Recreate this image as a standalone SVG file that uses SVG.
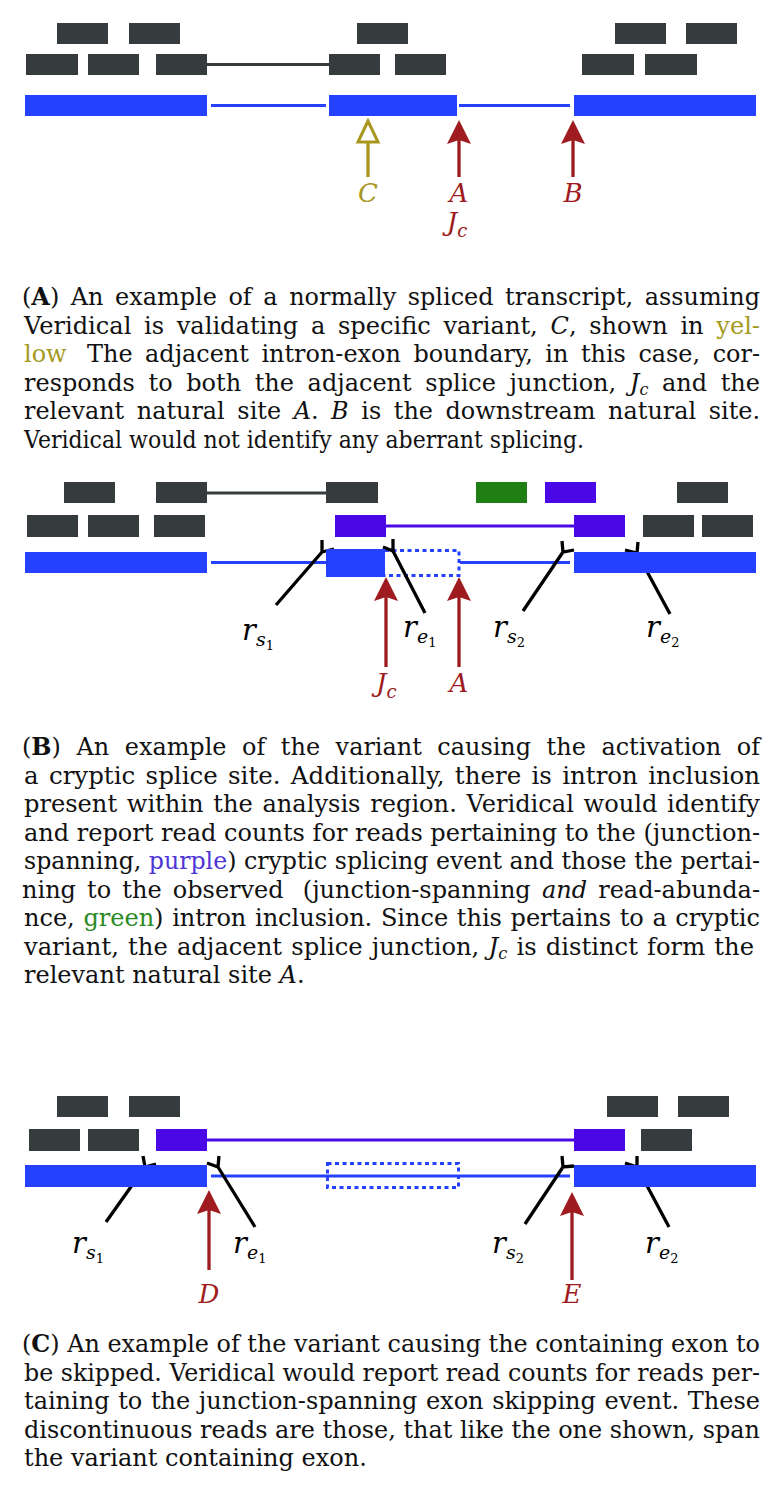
<svg xmlns="http://www.w3.org/2000/svg" width="780" height="1511" viewBox="0 0 780 1511">
<defs>
<style>
.rd{fill:#363c3e}
.pu{fill:#4a08e6}
.gr{fill:#1f7f14}
.ex{fill:#2541ff}
.intr{stroke:#2541ff;stroke-width:3;fill:none}
.dot{stroke:#2541ff;stroke-width:3;fill:none;stroke-dasharray:4 3.5}
.jg{stroke:#363c3e;stroke-width:3;fill:none}
.jp{stroke:#4a08e6;stroke-width:3;fill:none}
.ar{stroke:#9e1b20;stroke-width:3.3;fill:none;marker-end:url(#ah)}
.ay{stroke:#a8961e;stroke-width:3.3;fill:none;marker-end:url(#ay)}
.ptr{stroke:#000;stroke-width:3.3;fill:none;stroke-linejoin:miter}
.cap{font-family:"DejaVu Serif","Liberation Serif",serif;fill:#111}
.m{font-family:"DejaVu Serif","Liberation Serif",serif;font-style:italic}
.lr{fill:#9e1b20}
.ly{fill:#a8961e}
.lk{fill:#000}
.yt{fill:#a39a1e}
.pt{fill:#4d35d6}
.gt{fill:#2b8a24}
</style>
<marker id="ah" markerUnits="userSpaceOnUse" viewBox="-25 -15 50 30" markerWidth="50" markerHeight="30" refX="0" refY="0" orient="auto" overflow="visible">
<path d="M20,0 L-4,-12 L0,0 L-4,12 Z" fill="#9e1b20"/>
</marker>
<marker id="ay" markerUnits="userSpaceOnUse" viewBox="-25 -15 50 30" markerWidth="50" markerHeight="30" refX="0" refY="0" orient="auto" overflow="visible">
<path d="M18,0 L-3,-10 L-3,10 Z" fill="#fff" stroke="#a8961e" stroke-width="3" stroke-linejoin="miter"/>
</marker>
</defs>
<rect width="780" height="1511" fill="#fff"/>

<!-- ================= PANEL A ================= -->
<g id="panelA">
<g id="connectorsA">
<line class="jg" x1="207" y1="64.5" x2="329" y2="64.5"/>
<line class="intr" x1="211" y1="105.5" x2="326" y2="105.5"/>
<line class="intr" x1="459" y1="105.5" x2="570" y2="105.5"/>
<line class="ay" x1="368" y1="177" x2="368" y2="139"/>
<line class="ar" x1="459" y1="177" x2="459" y2="140"/>
<line class="ar" x1="573" y1="177" x2="573" y2="140"/>
</g>
<g id="A-reads">
<rect id="A-r1" class="rd" x="57" y="23" width="51" height="21"/>
<rect id="A-r2" class="rd" x="129" y="23" width="51" height="21"/>
<rect id="A-r3" class="rd" x="357" y="23" width="51" height="21"/>
<rect id="A-r4" class="rd" x="615" y="23" width="51" height="21"/>
<rect id="A-r5" class="rd" x="686" y="23" width="51" height="21"/>
<rect id="A-r6" class="rd" x="26" y="54" width="52" height="21"/>
<rect id="A-r7" class="rd" x="88" y="54" width="51" height="21"/>
<rect id="A-r8" class="rd" x="156" y="54" width="51" height="21"/>
<rect id="A-r9" class="rd" x="329" y="54" width="51" height="21"/>
<rect id="A-r10" class="rd" x="395" y="54" width="51" height="21"/>
<rect id="A-r11" class="rd" x="582" y="54" width="52" height="21"/>
<rect id="A-r12" class="rd" x="645" y="54" width="52" height="21"/>
</g>
<g id="A-exon1"><rect class="ex" x="25" y="95" width="182" height="21"/></g>
<g id="A-exon2"><rect class="ex" x="329" y="95" width="128" height="21"/></g>
<g id="A-exon3"><rect class="ex" x="574" y="95" width="182" height="21"/></g>
<g id="A-labels" class="m" font-size="26" text-anchor="middle">
<text class="ly" x="368" y="202">C</text>
<text class="lr" x="459" y="202">A</text>
<text class="lr" x="573" y="202">B</text>
<text class="lr" x="457" y="231">J<tspan font-size="18" dy="6">c</tspan></text>
</g>
</g>

<!-- Caption A -->
<g id="captionA" class="cap" font-size="24">
<text x="22" y="305" textLength="738" lengthAdjust="spacingAndGlyphs" word-spacing="4">(<tspan font-weight="bold">A</tspan>) An example of a normally spliced transcript, assuming</text>
<text x="24" y="333.5" textLength="736" lengthAdjust="spacingAndGlyphs" word-spacing="5">Veridical is validating a specific variant, <tspan font-style="italic">C</tspan>, shown in <tspan class="yt">yel-</tspan></text>
<text x="24" y="362" textLength="736" lengthAdjust="spacingAndGlyphs" word-spacing="5"><tspan class="yt">low</tspan> <tspan dx="8">The adjacent intron-exon boundary, in this case, cor-</tspan></text>
<text x="24" y="390.5" textLength="736" lengthAdjust="spacingAndGlyphs" word-spacing="6">responds to both the adjacent splice junction, <tspan font-style="italic">J</tspan><tspan font-style="italic" font-size="16" dy="4">c</tspan><tspan dy="-4"> and the</tspan></text>
<text x="24" y="419" textLength="736" lengthAdjust="spacingAndGlyphs" word-spacing="5">relevant natural site <tspan font-style="italic">A</tspan>. <tspan font-style="italic">B</tspan> is the downstream natural site.</text>
<text x="24" y="447.5" textLength="560" lengthAdjust="spacingAndGlyphs">Veridical would not identify any aberrant splicing.</text>
</g>

<!-- ================= PANEL B ================= -->
<g id="panelB">
<g id="connectorsB">
<line class="jg" x1="207" y1="493" x2="326" y2="493"/>
<line class="jp" x1="386" y1="526" x2="574" y2="526"/>
<line class="intr" x1="211" y1="562.5" x2="326" y2="562.5"/>
<line class="intr" x1="460" y1="562.5" x2="570" y2="562.5"/>
<path class="dot" d="M385,550.5 H459 V575.5 H385"/>
<line class="ar" x1="386" y1="667" x2="386" y2="597"/>
<line class="ar" x1="459" y1="667" x2="459" y2="597"/>
<path class="ptr" d="M276,605 L322,552 M322,540 L322,552 L334,549"/>
<path class="ptr" d="M425,613 L393,551 M393,539 L393,551 L383,547"/>
<path class="ptr" d="M523,611 L563,552 M562,541 L563,552 L574,550"/>
<path class="ptr" d="M670,614 L637,553 M638,542 L637,553 L625,550"/>
</g>
<g id="B-reads">
<rect id="B-r1" class="rd" x="64" y="482" width="51" height="21"/>
<rect id="B-r2" class="rd" x="156" y="482" width="51" height="21"/>
<rect id="B-r3" class="rd" x="326" y="482" width="52" height="21"/>
<rect id="B-r4" class="gr" x="476" y="482" width="51" height="21"/>
<rect id="B-r5" class="pu" x="545" y="482" width="51" height="21"/>
<rect id="B-r6" class="rd" x="677" y="482" width="51" height="21"/>
<rect id="B-r7" class="rd" x="27" y="515" width="51" height="22"/>
<rect id="B-r8" class="rd" x="88" y="515" width="51" height="22"/>
<rect id="B-r9" class="rd" x="154" y="515" width="51" height="22"/>
<rect id="B-r10" class="pu" x="335" y="515" width="51" height="22"/>
<rect id="B-r11" class="pu" x="574" y="515" width="51" height="22"/>
<rect id="B-r12" class="rd" x="643" y="515" width="51" height="22"/>
<rect id="B-r13" class="rd" x="702" y="515" width="51" height="22"/>
</g>
<g id="B-exon1"><rect class="ex" x="25" y="552" width="182" height="21"/></g>
<g id="B-exon2"><rect class="ex" x="326" y="549" width="59" height="28"/></g>
<g id="B-exon3"><rect class="ex" x="574" y="552" width="182" height="21"/></g>
<g id="B-labels" class="m">
<text class="lk" x="242" y="640" font-size="29">r<tspan font-size="19" dy="6">s</tspan><tspan font-size="13" font-style="normal" dy="4">1</tspan></text>
<text class="lk" x="403" y="637" font-size="29">r<tspan font-size="19" dy="6">e</tspan><tspan font-size="13" font-style="normal" dy="4">1</tspan></text>
<text class="lk" x="493" y="637" font-size="29">r<tspan font-size="19" dy="6">s</tspan><tspan font-size="13" font-style="normal" dy="4">2</tspan></text>
<text class="lk" x="646" y="637" font-size="29">r<tspan font-size="19" dy="6">e</tspan><tspan font-size="13" font-style="normal" dy="4">2</tspan></text>
<text class="lr" x="376" y="692" font-size="26">J<tspan font-size="18" dy="6">c</tspan></text>
<text class="lr" x="459" y="692" font-size="26" text-anchor="middle">A</text>
</g>
</g>

<!-- Caption B -->
<g id="captionB" class="cap" font-size="24">
<text x="22" y="755" textLength="738" lengthAdjust="spacingAndGlyphs" word-spacing="8">(<tspan font-weight="bold">B</tspan>) An example of the variant causing the activation of</text>
<text x="24" y="783.5" textLength="736" lengthAdjust="spacingAndGlyphs" word-spacing="2.5">a cryptic splice site. Additionally, there is intron inclusion</text>
<text x="24" y="812" textLength="736" lengthAdjust="spacingAndGlyphs" word-spacing="2">present within the analysis region. Veridical would identify</text>
<text x="24" y="840.5" textLength="736" lengthAdjust="spacingAndGlyphs">and report read counts for reads pertaining to the (junction-</text>
<text x="24" y="869" textLength="736" lengthAdjust="spacingAndGlyphs">spanning, <tspan class="pt">purple</tspan>) cryptic splicing event and those the pertai-</text>
<text x="22" y="897.5" textLength="738" lengthAdjust="spacingAndGlyphs" word-spacing="3.5">ning to the observed <tspan dx="8">(junction-spanning</tspan> <tspan font-style="italic">and</tspan> read-abunda-</text>
<text x="24" y="926" textLength="736" lengthAdjust="spacingAndGlyphs" word-spacing="1">nce, <tspan class="gt">green</tspan>) intron inclusion. Since this pertains to a cryptic</text>
<text x="24" y="954.5" textLength="730" lengthAdjust="spacingAndGlyphs" word-spacing="1.5">variant, the adjacent splice junction, <tspan font-style="italic">J</tspan><tspan font-style="italic" font-size="16" dy="4">c</tspan><tspan dy="-4"> is distinct form the</tspan></text>
<text x="24" y="983">relevant natural site <tspan font-style="italic">A</tspan>.</text>
</g>

<!-- ================= PANEL C ================= -->
<g id="panelC">
<g id="connectorsC">
<line class="jp" x1="207" y1="1140" x2="574" y2="1140"/>
<line class="intr" x1="211" y1="1176" x2="570" y2="1176"/>
<rect class="dot" x="327.5" y="1163.5" width="131" height="24"/>
<line class="ar" x1="209" y1="1270" x2="209" y2="1210"/>
<line class="ar" x1="572" y1="1280" x2="572" y2="1212"/>
<path class="ptr" d="M106,1222 L145,1167 M143,1156 L145,1167 L156,1164"/>
<path class="ptr" d="M255,1227 L218,1167 M219,1156 L218,1167 L207,1163"/>
<path class="ptr" d="M525,1224 L563,1167 M562,1156 L563,1167 L574,1166"/>
<path class="ptr" d="M669,1227 L637,1167 M637,1156 L637,1167 L625,1163"/>
</g>
<g id="C-reads">
<rect id="C-r1" class="rd" x="57" y="1096" width="51" height="21"/>
<rect id="C-r2" class="rd" x="129" y="1096" width="51" height="21"/>
<rect id="C-r3" class="rd" x="607" y="1096" width="51" height="21"/>
<rect id="C-r4" class="rd" x="678" y="1096" width="51" height="21"/>
<rect id="C-r5" class="rd" x="29" y="1129" width="51" height="22"/>
<rect id="C-r6" class="rd" x="88" y="1129" width="51" height="22"/>
<rect id="C-r7" class="pu" x="156" y="1129" width="51" height="22"/>
<rect id="C-r8" class="pu" x="574" y="1129" width="51" height="22"/>
<rect id="C-r9" class="rd" x="641" y="1129" width="51" height="22"/>
</g>
<g id="C-exon1"><rect class="ex" x="25" y="1165" width="182" height="22"/></g>
<g id="C-exon3"><rect class="ex" x="574" y="1165" width="182" height="22"/></g>
<g id="C-labels" class="m">
<text class="lk" x="72" y="1253" font-size="29">r<tspan font-size="19" dy="6">s</tspan><tspan font-size="13" font-style="normal" dy="4">1</tspan></text>
<text class="lk" x="233" y="1253" font-size="29">r<tspan font-size="19" dy="6">e</tspan><tspan font-size="13" font-style="normal" dy="4">1</tspan></text>
<text class="lk" x="492" y="1253" font-size="29">r<tspan font-size="19" dy="6">s</tspan><tspan font-size="13" font-style="normal" dy="4">2</tspan></text>
<text class="lk" x="645" y="1253" font-size="29">r<tspan font-size="19" dy="6">e</tspan><tspan font-size="13" font-style="normal" dy="4">2</tspan></text>
<text class="lr" x="209" y="1303" font-size="26" text-anchor="middle">D</text>
<text class="lr" x="572" y="1303" font-size="26" text-anchor="middle">E</text>
</g>
</g>

<!-- Caption C -->
<g id="captionC" class="cap" font-size="24">
<text x="22" y="1352" textLength="738" lengthAdjust="spacingAndGlyphs">(<tspan font-weight="bold">C</tspan>) An example of the variant causing the containing exon to</text>
<text x="24" y="1380.5" textLength="736" lengthAdjust="spacingAndGlyphs">be skipped. Veridical would report read counts for reads per-</text>
<text x="24" y="1409" textLength="736" lengthAdjust="spacingAndGlyphs" word-spacing="1">taining to the junction-spanning exon skipping event. These</text>
<text x="24" y="1437.5" textLength="736" lengthAdjust="spacingAndGlyphs">discontinuous reads are those, that like the one shown, span</text>
<text x="24" y="1466">the variant containing exon.</text>
</g>
</svg>
